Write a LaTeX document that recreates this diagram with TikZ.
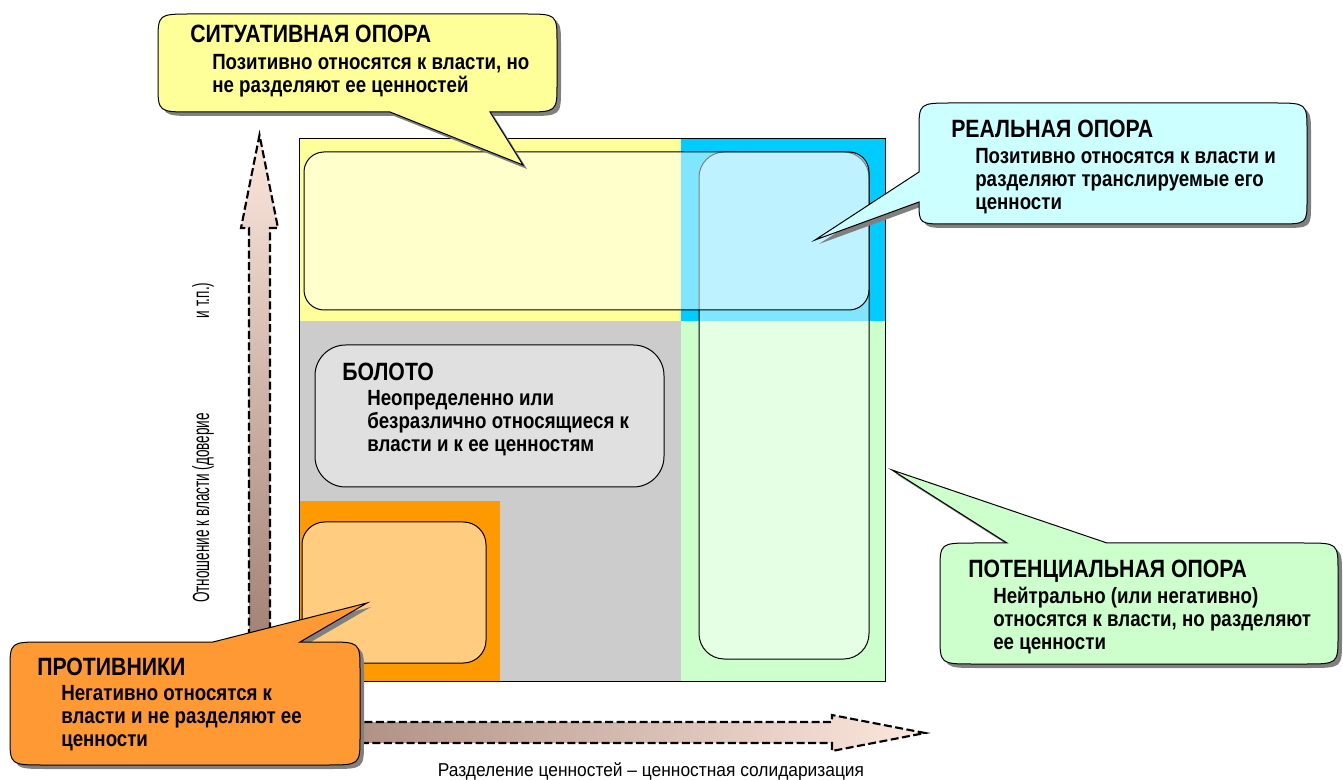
\documentclass[tikz,border=0pt]{standalone}
\usepackage{fontspec}
\setmainfont{Liberation Sans}
\newfontfamily\cfont{Liberation Sans}[FakeStretch=0.85]
\newfontfamily\hfont{Liberation Sans}[FakeStretch=0.93]
\newfontfamily\vfont{Liberation Sans}[FakeStretch=0.58]
\definecolor{qyel}{HTML}{FFFF99}
\definecolor{qcyan}{HTML}{00CCFF}
\definecolor{qgray}{HTML}{CCCCCC}
\definecolor{qgreen}{HTML}{CCFFCC}
\definecolor{qorange}{HTML}{FF9900}
\definecolor{csit}{HTML}{FFFF99}
\definecolor{creal}{HTML}{CCFFFF}
\definecolor{cpot}{HTML}{CCFFCC}
\definecolor{copp}{HTML}{FF9933}
\definecolor{arrdark}{HTML}{9E7E70}
\definecolor{arrlight}{HTML}{FDE8DE}
\tikzset{
  ttl/.style={anchor=base west, inner sep=0pt, font=\cfont\bfseries\fontsize{18.75pt}{20pt}\selectfont},
  bodytxt/.style={anchor=base west, inner sep=0pt, font=\cfont\bfseries\fontsize{16.5pt}{17.25pt}\selectfont},
  innerbox/.style={draw=black, line width=0.75pt, fill=white, fill opacity=0.5},
  axisarrow/.style={draw=black, line width=1.6pt, dash pattern=on 6pt off 2.6pt},
  shadowfill/.style={fill=black!50},
  calloutline/.style={draw=black, line width=0.75pt},
}
% callout outlines (corner radius about 34 px horizontally, 28 px vertically)
\newcommand\sitpath[1]{\path[#1] (390,112) -- (192,112) .. controls (158,112) .. (158,84) -- (158,42) .. controls (158,14) .. (192,14) -- (523,14) .. controls (557,14) .. (557,42) -- (557,84) .. controls (557,112) .. (523,112) -- (490,112) -- (523,165) -- cycle;}
\newcommand\realpath[1]{\path[#1] (919,172) -- (919,131) .. controls (919,103) .. (953,103) -- (1273,103) .. controls (1307,103) .. (1307,131) -- (1307,200) .. controls (1307,224) .. (1277,224) -- (947,224) .. controls (919,224) .. (919,202) -- (815,240) -- cycle;}
\newcommand\potpath[1]{\path[#1] (1007,543) -- (892,470) -- (1107,543) -- (1304,543) .. controls (1338,543) .. (1338,571) -- (1338,636) .. controls (1338,664) .. (1304,664) -- (974,664) .. controls (940,664) .. (940,636) -- (940,571) .. controls (940,543) .. (974,543) -- cycle;}
\newcommand\opppath[1]{\path[#1] (213,642) -- (367,603) -- (300,642) -- (326,642) .. controls (360,642) .. (360,670) -- (360,737) .. controls (360,765) .. (326,765) -- (44,765) .. controls (10,765) .. (10,737) -- (10,670) .. controls (10,642) .. (44,642) -- cycle;}
\begin{document}
\begin{tikzpicture}[x=0.75pt,y=-0.75pt]
\useasboundingbox (0,0) rectangle (1343,780);
% quadrants
\fill[qyel] (299,139) rectangle (681,321);
\fill[qcyan] (681,139) rectangle (885,321);
\fill[qgray] (299,321) rectangle (681,681);
\fill[qgreen] (681,321) rectangle (885,681);
\fill[qorange] (299,501) rectangle (500,681);
\draw[line width=0.75pt] (299,139) rectangle (885,681);
% inner rounded boxes
\draw[innerbox, rounded corners=19pt] (699,152) rectangle (869,659);
\draw[innerbox, rounded corners=15pt] (304,152) rectangle (869,310);
\draw[innerbox, fill opacity=0.4, rounded corners=23pt] (315,345) rectangle (664,487);
\draw[innerbox, rounded corners=17pt] (302,522) rectangle (486,663);
% axes
\shade[top color=arrlight, bottom color=arrdark] (249,660) -- (249,228) -- (241,228) -- (259.5,135) -- (278,228) -- (270,228) -- (270,660) -- cycle;
\draw[axisarrow] (249,660) -- (249,228) -- (241,228) -- (259.5,135) -- (278,228) -- (270,228) -- (270,660);
\shade[left color=arrdark!85!arrlight, right color=arrlight] (330,722) -- (832,722) -- (832,715) -- (925,733) -- (832,751) -- (832,743) -- (330,743) -- cycle;
\draw[axisarrow] (330,722) -- (832,722) -- (832,715) -- (925,733) -- (832,751) -- (832,743) -- (330,743);
\node[anchor=base, inner sep=0pt, font=\hfont\fontsize{14pt}{16pt}\selectfont] (xlab) at (651,776) {Разделение ценностей – ценностная солидаризация};
\node[anchor=base west, rotate=90, inner sep=0pt, font=\vfont\fontsize{17.5pt}{19pt}\selectfont] (ylab) at (209,603) {\makebox[240pt][l]{Отношение к власти (доверие\hfill и т.п.)}};
% Boloto text
\node[ttl] (bolT) at (342,381) {БОЛОТО};
\node[bodytxt] (bolB) at (367,406) {\parbox[t]{300pt}{\raggedright Неопределенно или\\безразлично относящиеся к\\власти и к ее ценностям}};
% callouts
\sitpath{shadowfill, shift={(4,4)}}
\sitpath{fill=csit, calloutline}
\node[ttl] (sitT) at (190,43) {СИТУАТИВНАЯ ОПОРА};
\node[bodytxt] (sitB) at (212,70) {\parbox[t]{330pt}{\raggedright Позитивно относятся к власти, но\\не разделяют ее ценностей}};
\realpath{shadowfill, shift={(4,4)}}
\realpath{fill=creal, calloutline}
\node[ttl] (realT) at (951,138) {РЕАЛЬНАЯ ОПОРА};
\node[bodytxt] (realB) at (975,164) {\parbox[t]{330pt}{\raggedright Позитивно относятся к власти и\\разделяют транслируемые его\\ценности}};
\potpath{shadowfill, shift={(4,4)}}
\potpath{fill=cpot, calloutline}
\node[ttl] (potT) at (968,577) {ПОТЕНЦИАЛЬНАЯ ОПОРА};
\node[bodytxt] (potB) at (993,603) {\parbox[t]{330pt}{\raggedright Нейтрально (или негативно)\\относятся к власти, но разделяют\\ее ценности}};
\opppath{shadowfill, shift={(4,4)}}
\opppath{fill=copp, calloutline}
\node[ttl] (oppT) at (37,675) {ПРОТИВНИКИ};
\node[bodytxt] (oppB) at (61,700) {\parbox[t]{330pt}{\raggedright Негативно относятся к\\власти и не разделяют ее\\ценности}};
\end{tikzpicture}
\end{document}
